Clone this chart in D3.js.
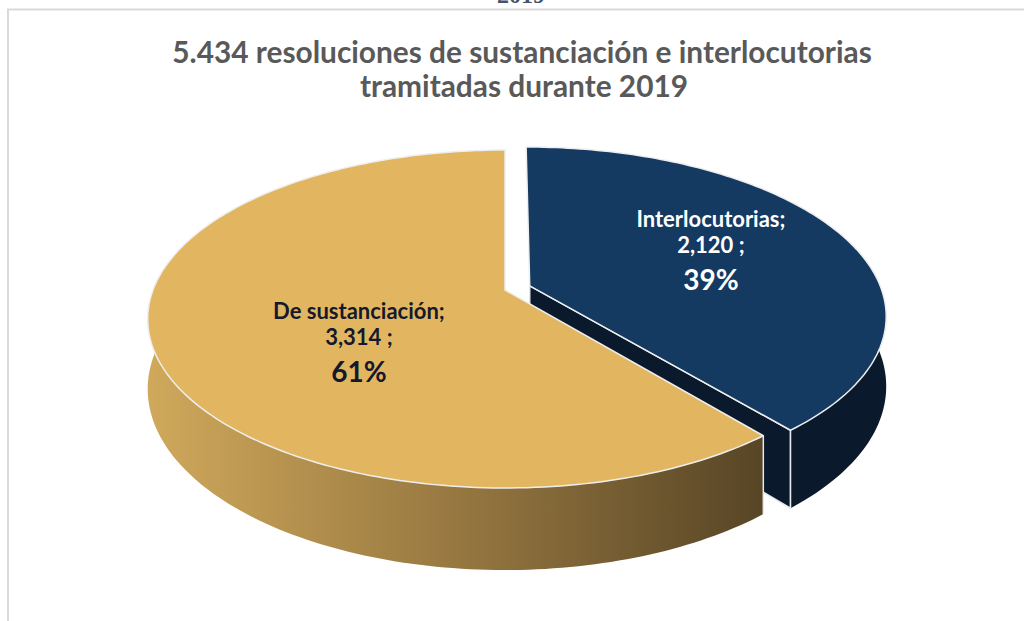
<!DOCTYPE html>
<html>
<head>
<meta charset="utf-8">
<script src="https://cdn.jsdelivr.net/npm/d3@7"></script>
<style>
	body { margin: 0; background: #fff; }
	svg { display: block; }
</style>
</head>
<body>
<svg width="1024" height="621"></svg>
<script>
//* Data (pie order, clockwise from 12 o'clock)
const categories = ["Interlocutorias", "De sustanciación"];
const values = [2120, 3314];
const titleLines = ["5.434 resoluciones de sustanciación e interlocutorias", "tramitadas durante 2019"];
const headerCut = "2019";

const svg = d3.select("svg");

//* Styling
const topColors = ["#143a62", "#e2b661"];
const sideColors = ["#0a1a2c", "url(#goldSide)"];
const explode = [0.075, 0];
const labelR = [0.57, 0.43];
const labelDy = [-3, 31];
const labelFill = ["#ffffff", "#14192b"];

//* 3D projection of the unit disc (u right, v toward viewer)
const cx = 505, cy = 290, A = 352, B = 164, k = 0.1716, H = 68;
const project = (u, v, z) => {
	const s = 1 / (1 - k * v);
	return [cx + A * u * s, cy + (B * v + z) * s];
};

const pie = d3.pie().sort(null).value((d) => d);
const slices = pie(values);
const total = d3.sum(values);
const pct = d3.format(".0%");
const num = d3.format(",");

//* Gradient for the gold side wall
const grad = svg.append("defs").append("linearGradient")
	.attr("id", "goldSide")
	.attr("gradientUnits", "userSpaceOnUse")
	.attr("x1", 150).attr("x2", 770).attr("y1", 0).attr("y2", 0);
grad.append("stop").attr("offset", 0).attr("stop-color", "#cfa85b");
grad.append("stop").attr("offset", 0.45).attr("stop-color", "#9c7c43");
grad.append("stop").attr("offset", 1).attr("stop-color", "#564425");

//* Border box
svg.append("rect")
	.attr("x", 8).attr("y", 9.5)
	.attr("width", 1100).attr("height", 700)
	.attr("fill", "none")
	.attr("stroke", "#d9d9d9")
	.attr("stroke-width", 2);

//* Clipped caption from the page above
svg.append("text")
	.attr("x", 521).attr("y", 3)
	.attr("text-anchor", "middle")
	.attr("font-family", "'Liberation Serif', 'DejaVu Serif', serif")
	.attr("font-weight", "bold")
	.attr("font-size", 24)
	.attr("fill", "#44546a")
	.text(headerCut);

//* Title
const title = svg.append("g")
	.attr("font-family", "Lato, 'Open Sans', sans-serif")
	.attr("font-weight", "bold")
	.attr("fill", "#595959")
	.attr("text-anchor", "middle");
const t1 = title.append("text").attr("x", 522).attr("y", 63).attr("font-size", 28).text(titleLines[0]);
const fs = 28 * 700 / t1.node().getComputedTextLength();
t1.attr("font-size", fs);
title.append("text").attr("x", 524).attr("y", 97).attr("font-size", fs).text(titleLines[1]);

//* Geometry helpers
const offsetOf = (d, i) => {
	const m = (d.startAngle + d.endAngle) / 2;
	return [Math.sin(m) * explode[i], -Math.cos(m) * explode[i]];
};
const rimPoints = (a0, a1, off, z) => {
	const n = Math.max(2, Math.ceil((a1 - a0) / 0.02));
	return d3.range(n + 1).map((j) => {
		const a = a0 + (a1 - a0) * j / n;
		return project(Math.sin(a) + off[0], -Math.cos(a) + off[1], z);
	});
};
const line = d3.line();

const drawSlice = (d, i) => {
	const off = offsetOf(d, i);
	const g = svg.append("g");
	const vTop = project(off[0], off[1], 0);
	const vBot = project(off[0], off[1], H);

	//* cut face on the far edge (faces the viewer for the first slice)
	if (i === 0) {
		const a = d.endAngle;
		const cTop = project(Math.sin(a) + off[0], -Math.cos(a) + off[1], 0);
		const cBot = project(Math.sin(a) + off[0], -Math.cos(a) + off[1], H);
		g.append("path")
			.attr("d", line([vTop, cTop, cBot, vBot]) + "Z")
			.attr("fill", sideColors[i])
			.attr("stroke", "#e8e8e8")
			.attr("stroke-width", 1.5)
			.attr("stroke-linejoin", "round");
	}

	//* outer wall, front half only
	const s0 = Math.max(d.startAngle, Math.PI / 2 - 0.1);
	const s1 = Math.min(d.endAngle, 1.5 * Math.PI + 0.1);
	if (s1 > s0) {
		const topRim = rimPoints(s0, s1, off, 0);
		const botRim = rimPoints(s0, s1, off, H).reverse();
		g.append("path")
			.attr("d", line(topRim.concat(botRim)) + "Z")
			.attr("fill", sideColors[i]);
		// corner edge
		[d.startAngle, d.endAngle].forEach((a) => {
			if (a > s0 - 1e-6 && a < s1 + 1e-6 && a > Math.PI / 2 && a < 1.5 * Math.PI) {
				g.append("path")
					.attr("d", line([
						project(Math.sin(a) + off[0], -Math.cos(a) + off[1], 0),
						project(Math.sin(a) + off[0], -Math.cos(a) + off[1], H)
					]))
					.attr("stroke", "#e8e8e8")
					.attr("stroke-width", 1.5);
			}
		});
	}

	//* top face
	const rim = rimPoints(d.startAngle, d.endAngle, off, 0);
	g.append("path")
		.attr("d", line([vTop].concat(rim)) + "Z")
		.attr("fill", topColors[i])
		.attr("stroke", "#eeeeee")
		.attr("stroke-width", 1.5)
		.attr("stroke-linejoin", "round");
};

slices.forEach(drawSlice);

//* Labels
slices.forEach((d, i) => {
	const off = offsetOf(d, i);
	const m = (d.startAngle + d.endAngle) / 2;
	const p = project(Math.sin(m) * labelR[i] + off[0], -Math.cos(m) * labelR[i] + off[1], 0);
	const x = p[0], y = p[1] + labelDy[i];
	const lab = svg.append("g")
		.attr("font-family", "Lato, 'Open Sans', sans-serif")
		.attr("font-weight", "bold")
		.attr("text-anchor", "middle")
		.attr("fill", labelFill[i]);
	lab.append("text").attr("x", x).attr("y", y - 26).attr("font-size", 22).text(categories[i] + ";");
	lab.append("text").attr("x", x).attr("y", y).attr("font-size", 22).text(num(values[i]) + " ;");
	lab.append("text").attr("x", x).attr("y", y + 37).attr("font-size", 28).text(pct(values[i] / total));
});
</script>
</body>
</html>
